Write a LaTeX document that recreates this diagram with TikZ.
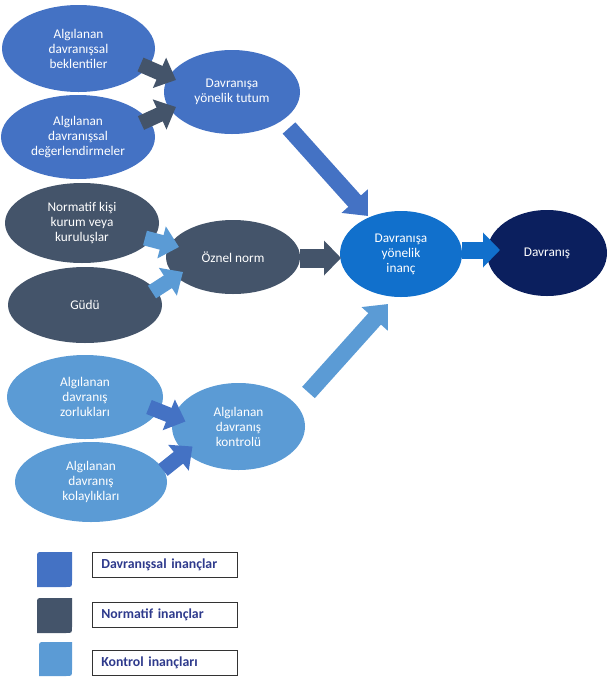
\documentclass[tikz,border=0pt]{standalone}
\usepackage{fontspec}
\setmainfont{Carlito}
\usetikzlibrary{shapes.geometric,arrows.meta,calc}
\definecolor{cB}{HTML}{4472C4}
\definecolor{cN}{HTML}{44546A}
\definecolor{cK}{HTML}{5B9BD5}
\definecolor{cI}{HTML}{1170CC}
\definecolor{cD}{HTML}{0B1F5E}
\definecolor{cLT}{HTML}{2E3A8C}
\tikzset{
  ell/.style={ellipse, inner sep=0pt, align=center, text=white,
    font=\fontsize{13.3}{15}\selectfont},
  barrow/.style={line width=15pt, draw=#1, -{Triangle[length=18pt,width=32pt]}},
  bigarrow/.style={line width=17pt, draw=#1, -{Triangle[length=20pt,width=34pt]}},
  legbox/.style={draw=black!80, line width=0.8pt, rectangle, anchor=north west,
    minimum width=145pt, minimum height=25pt, inner xsep=9pt, text width=127pt,
    align=left, text=cLT, font=\bfseries\fontsize{13.8}{16}\selectfont}
}
\begin{document}
\begin{tikzpicture}[x=1pt,y=-1pt]
\useasboundingbox (0,0) rectangle (610,694);
% ellipses
\node[ell, fill=cB, minimum width=153pt, minimum height=87pt] (b1) at (78.5,48.5) {Algılanan\\davranışsal\\beklentiler};
\node[ell, fill=cB, minimum width=154pt, minimum height=84pt] (b2) at (78,137) {Algılanan\\davranışsal\\değerlendirmeler};
\node[ell, fill=cB, minimum width=136pt, minimum height=84pt] (tut) at (232,92) {Davranışa\\yönelik tutum};
\node[ell, fill=cN, minimum width=154pt, minimum height=80pt] (nk) at (82,223) {Normatif kişi\\kurum veya\\kuruluşlar};
\node[ell, fill=cN, minimum width=154pt, minimum height=76pt] (gudu) at (85,305) {Güdü};
\node[ell, fill=cN, minimum width=134pt, minimum height=74pt] (oz) at (233,257) {Öznel norm};
\node[ell, fill=cI, minimum width=122pt, minimum height=86pt] (inanc) at (401,254) {Davranışa\\yönelik\\inanç};
\node[ell, fill=cD, minimum width=120pt, minimum height=86pt] (dav) at (547,253) {Davranış};
\node[ell, fill=cK, minimum width=156pt, minimum height=84pt] (zor) at (85,397) {Algılanan\\davranış\\zorlukları};
\node[ell, fill=cK, minimum width=152pt, minimum height=80pt] (kol) at (91,482) {Algılanan\\davranış\\kolaylıkları};
\node[ell, fill=cK, minimum width=133pt, minimum height=87pt] (kon) at (238.5,426.5) {Algılanan\\davranış\\kontrolü};
% arrows
\draw[barrow=cN] ($(b1.center)+(62,16)$) -- ($(tut.center)+(-56,-12)$);
\draw[barrow=cN] ($(b2.center)+(63,-14)$) -- ($(tut.center)+(-56,15)$);
\draw[bigarrow=cB] ($(tut.center)+(57,36)$) -- ($(inanc.center)+(-33,-38)$);
\draw[barrow=cK] ($(nk.center)+(63,15)$) -- ($(oz.center)+(-54,-10)$);
\draw[barrow=cK] ($(gudu.center)+(67,-13)$) -- ($(oz.center)+(-50,15)$);
\draw[line width=19pt, draw=cN, -{Triangle[length=17pt,width=34pt]}] ($(oz.center)+(67,1)$) -- ($(inanc.center)+(-60,4)$);
\draw[line width=17pt, draw=cI, -{Triangle[length=17pt,width=34pt]}] ($(inanc.center)+(61,-4)$) -- ($(dav.center)+(-47,-3)$);
\draw[bigarrow=cK] ($(kon.center)+(70,-34)$) -- ($(inanc.center)+(-13,50)$);
\draw[barrow=cB] ($(zor.center)+(64,10)$) -- ($(kon.center)+(-53,-5)$);
\draw[barrow=cB] ($(kol.center)+(72,-12)$) -- ($(kon.center)+(-46,20)$);
% legend
\fill[cB] (72,552) -- (43,552) .. controls (37,552) .. (37,558) -- (37,587) -- (66,587) .. controls (72,587) .. (72,581) -- cycle;
\fill[cN] (72,598) -- (43,598) .. controls (37,598) .. (37,604) -- (37,633) -- (66,633) .. controls (72,633) .. (72,627) -- cycle;
\fill[cK] (72,642) -- (45,642) .. controls (39,642) .. (39,648) -- (39,676) -- (66,676) .. controls (72,676) .. (72,670) -- cycle;
\node[legbox] (l1) at (92,552) {Davranışsal inançlar};
\node[legbox] (l2) at (92,602) {Normatif inançlar};
\node[legbox] (l3) at (92,650) {Kontrol inançları};
\end{tikzpicture}
\end{document}
